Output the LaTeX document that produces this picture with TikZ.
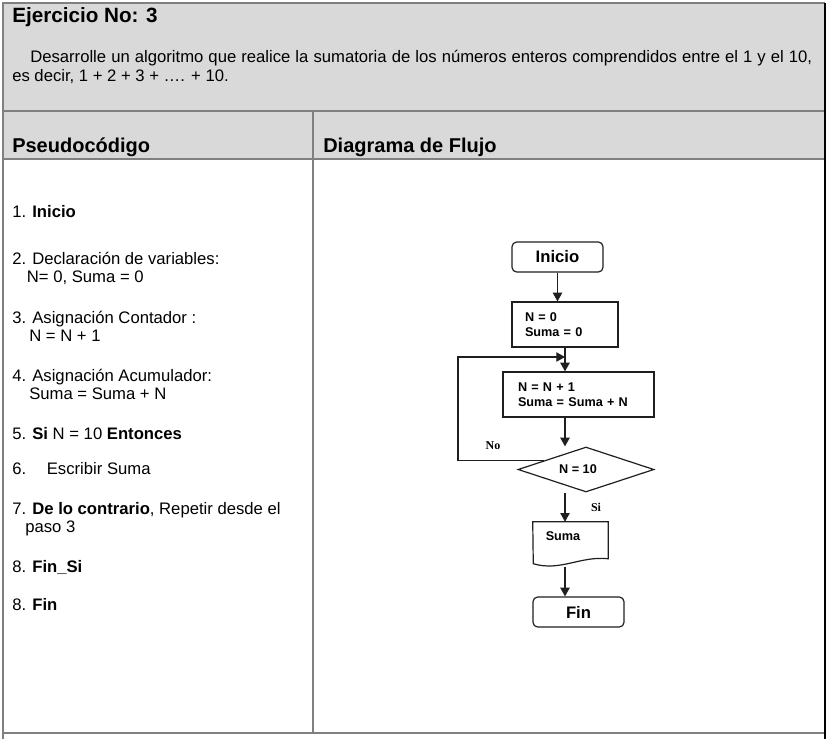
\documentclass[tikz,border=0pt]{standalone}
\usepackage{fontspec}
\setmainfont{Liberation Sans}
\newfontfamily\labelserif{Liberation Serif}
\usepackage{xcolor}
\usepackage{tikz}
\usetikzlibrary{arrows.meta,positioning,shapes.geometric,calc}
\definecolor{cellgray}{HTML}{D9D9D9}
\definecolor{rulegray}{HTML}{808080}
\definecolor{ink}{HTML}{1F1F1F}
\tikzset{
  tablerule/.style={draw=rulegray, line width=1pt},
  headtext/.style={anchor=west, inner sep=0pt, font=\bfseries\fontsize{15}{18}\selectfont},
  bodytext/.style={anchor=west, inner sep=0pt, align=left, font=\fontsize{12.5}{13.5}\selectfont},
  terminal/.style={draw=ink, rounded corners=3.5pt, fill=white, line width=0.9pt, minimum width=68.25pt, minimum height=22.5pt, inner sep=0pt, font=\bfseries\fontsize{12.5}{14}\selectfont},
  process/.style={draw=ink, fill=white, line width=0.9pt, minimum height=33.75pt, align=left, inner ysep=0pt, font=\bfseries\fontsize{9.5}{11.5}\selectfont},
  decision/.style={diamond, aspect=3, draw=ink, fill=white, line width=0.9pt, minimum width=102pt, minimum height=33.75pt, inner sep=0pt, font=\bfseries\fontsize{9.5}{11.5}\selectfont},
  docshape/.style={minimum width=56.25pt, minimum height=33.75pt, inner sep=0pt},
  doctext/.style={inner sep=0pt, font=\bfseries\fontsize{9.5}{11.5}\selectfont},
  branch/.style={inner sep=0pt, font=\labelserif\bfseries\fontsize{9}{11}\selectfont},
  arrow/.style={-{Triangle[length=6.5pt, width=7pt]}, draw=ink, line width=0.9pt}
}

\begin{document}
\begin{tikzpicture}[x=0.75pt, y=-0.75pt]
  \useasboundingbox (0,0) rectangle (836,739);

  % table frame
  \fill[cellgray] (3,3) rectangle (825,159);
  \draw[tablerule] (3,739) -- (3,3) -- (825,3);
  \draw[tablerule] (3,111) -- (825,111);
  \draw[tablerule] (3,159) -- (825,159);
  \draw[tablerule] (313,111) -- (313,733);
  \draw[tablerule] (3,733) -- (825,733);
  \draw[black, line width=1pt] (825,3) -- (825,739);

  \node[headtext, font=\bfseries\fontsize{15.5}{18}\selectfont] (title) at (12,17) {Ejercicio No: 3};
  \node[bodytext, text width=600pt, align=justify, font=\fontsize{12.5}{14.25}\selectfont] (task) at (12,67)
    {\hspace*{13.5pt}Desarrolle un algoritmo que realice la sumatoria de los números enteros comprendidos entre el 1 y el 10,\linebreak es decir, 1 + 2 + 3 + …. + 10.};
  \node[headtext] (pseudohead) at (12,147) {Pseudocódigo};
  \node[headtext] (flowhead) at (323,147) {Diagrama de Flujo};

  % pseudocode
  \node[bodytext] (p1) at (12,212) {1. \textbf{Inicio}};
  \node[bodytext] (p2) at (12,268) {2. Declaración de variables:\\\hspace*{11pt}N= 0, Suma = 0};
  \node[bodytext] (p3) at (12,326) {3. Asignación Contador :\\\hspace*{12.75pt}N = N + 1};
  \node[bodytext] (p4) at (12,384) {4. Asignación Acumulador:\\\hspace*{12.75pt}Suma = Suma + N};
  \node[bodytext] (p5) at (12,434) {5. \textbf{Si} N = 10 \textbf{Entonces}};
  \node[bodytext] (p6) at (12,469) {6.\hspace*{15.5pt}Escribir Suma};
  \node[bodytext] (p7) at (12,519) {7. \textbf{De lo contrario}, Repetir desde el\\\hspace*{9.75pt}paso 3};
  \node[bodytext] (p8) at (12,567) {8. \textbf{Fin\_Si}};
  \node[bodytext] (p9) at (12,605) {8. \textbf{Fin}};

  % flowchart
  \node[terminal] (inicio) at (557.5,257) {Inicio};
  \node[process, text width=60pt, inner xsep=9.75pt] (init) at (565,324.5) {N = 0\\Suma = 0};
  \node[process, text width=90.75pt, inner xsep=11.25pt] (accum) at (578.5,394.5) {N = N + 1\\Suma = Suma + N};
  \node[decision] (cond) at (586,469.5) {N = 10\hspace*{12pt}};
  \node[docshape] (doc) at (570.5,544.5) {};
  \draw[draw=ink, line width=0.9pt] (doc.north west) -- (doc.north east) -- ++(0,37)
    .. controls +(-28,-3) and +(27,8) .. ++(-75,5) -- cycle;
  \node[doctext] (sumatext) at (563,536) {Suma};
  \node[terminal] (fin) at (578.5,612) {Fin};
  \coordinate (loop) at (458,357);

  \draw[arrow] (inicio.south) -- (inicio.south |- init.north);
  \draw[arrow] (init.south) -- (init.south |- accum.north);
  \draw[arrow] (init.south |- accum.south) -- (init.south |- cond.north);
  \draw[arrow] (cond.168) -| (loop) -- (loop -| init.south);
  \node[branch] (nolabel) at (493,446) {No};
  \draw[arrow] (init.south |- cond.south) -- (init.south |- doc.north);
  \node[branch] (silabel) at (596,507) {Si};
  \draw[arrow] (init.south |- doc.south) -- (init.south |- fin.north);
\end{tikzpicture}
\end{document}
